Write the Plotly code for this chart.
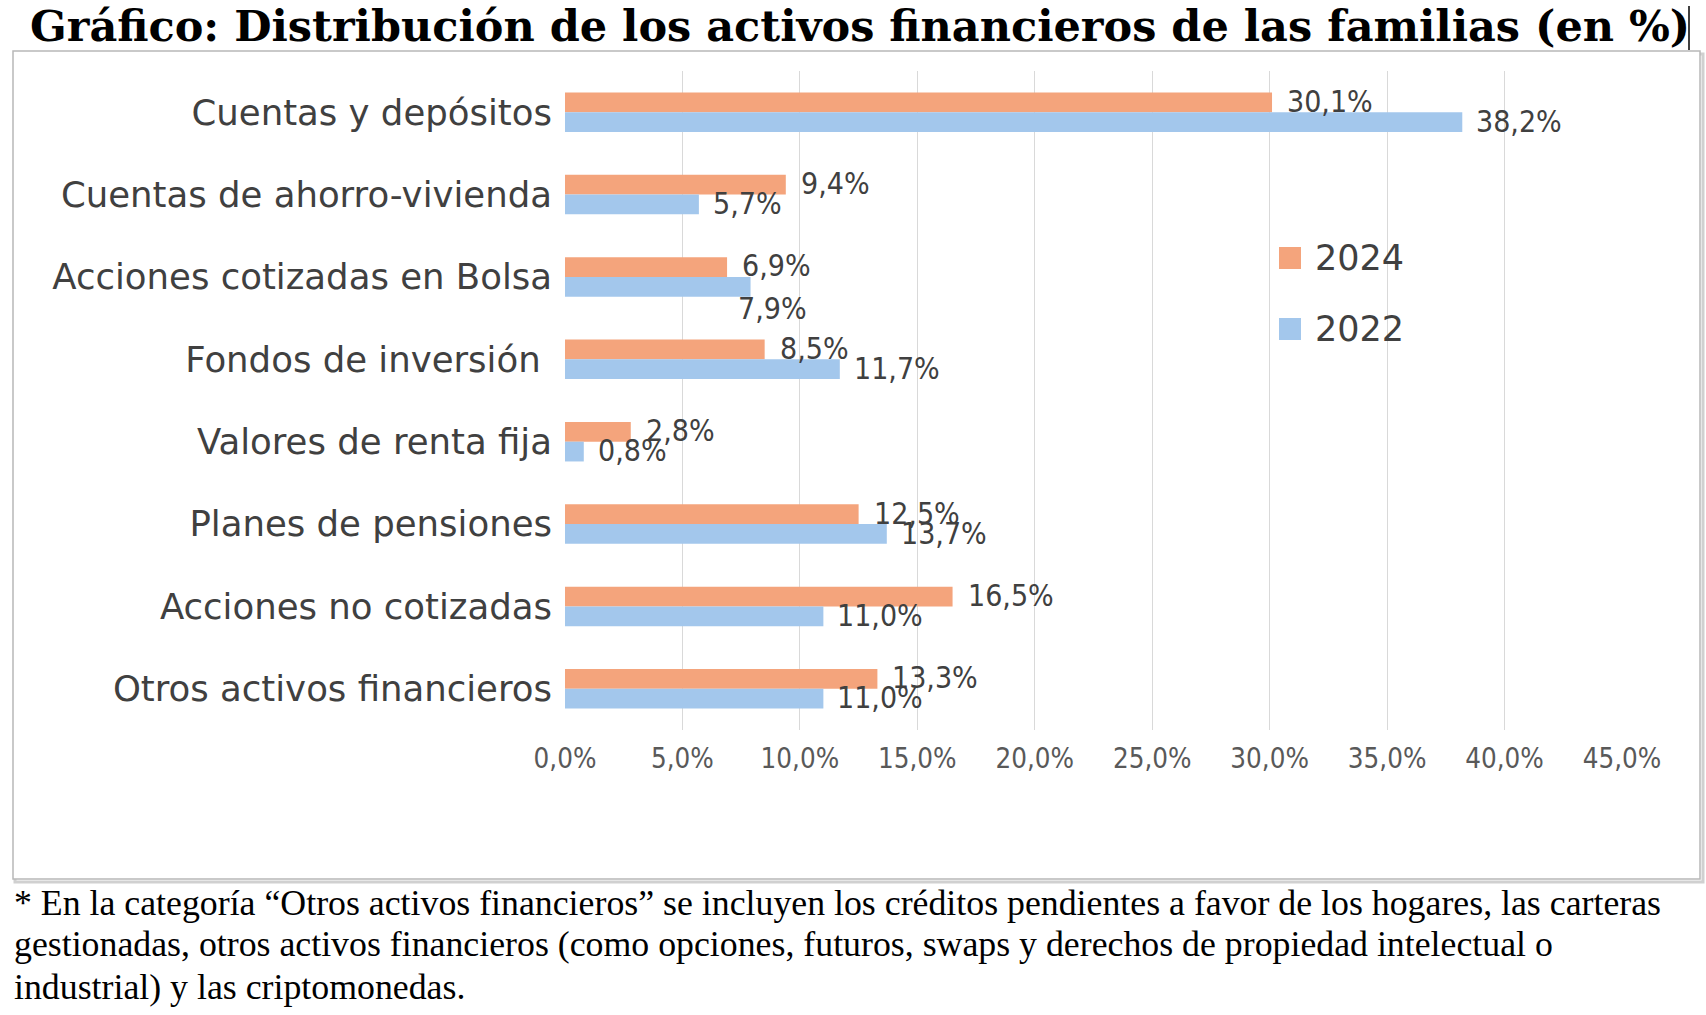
import plotly.graph_objects as go

categories = ["Cuentas y depósitos", "Cuentas de ahorro-vivienda", "Acciones cotizadas en Bolsa",
              "Fondos de inversión ", "Valores de renta fija", "Planes de pensiones",
              "Acciones no cotizadas", "Otros activos financieros"]
values_2024 = [30.1, 9.4, 6.9, 8.5, 2.8, 12.5, 16.5, 13.3]
values_2022 = [38.2, 5.7, 7.9, 11.7, 0.8, 13.7, 11.0, 11.0]
labels_2024 = ["30,1%", "9,4%", "6,9%", "8,5%", "2,8%", "12,5%", "16,5%", "13,3%"]
labels_2022 = ["38,2%", "5,7%", "7,9%", "11,7%", "0,8%", "13,7%", "11,0%", "11,0%"]
tick_vals = [0, 5, 10, 15, 20, 25, 30, 35, 40, 45]
tick_text = ["0,0%", "5,0%", "10,0%", "15,0%", "20,0%", "25,0%", "30,0%", "35,0%", "40,0%", "45,0%"]
series_names = ["2024", "2022"]
footnote_lines = [
    "* En la categoría “Otros activos financieros” se incluyen los créditos pendientes a favor de los hogares, las carteras",
    "gestionadas, otros activos financieros (como opciones, futuros, swaps y derechos de propiedad intelectual o",
    "industrial) y las criptomonedas.",
]
title_text = "Gráfico: Distribución de los activos financieros de las familias (en %)"

ORANGE = "#F4A47C"
BLUE = "#A3C7EC"
COLORS = [ORANGE, BLUE]
W, H = 1706, 1015
PL, PR, PT, PB = 565, 1622, 71, 730  # plot area pixels


def px(x):
    return (x - PL) / (PR - PL)


def py(y):
    return (PB - y) / (PB - PT)


fig = go.Figure()
fig.add_trace(go.Bar(name=series_names[0], y=categories, x=values_2024, orientation="h",
                     marker=dict(color=ORANGE, line=dict(width=0)), hoverinfo="skip"))
fig.add_trace(go.Bar(name=series_names[1], y=categories, x=values_2022, orientation="h",
                     marker=dict(color=BLUE, line=dict(width=0)), hoverinfo="skip"))

annotations = []
label_font = dict(family="DejaVu Sans Condensed, DejaVu Sans", size=30, color="#404040")
for i, c in enumerate(categories):
    annotations.append(dict(x=values_2024[i], y=c, text=labels_2024[i], showarrow=False,
                            xanchor="left", yanchor="middle", xshift=13, yshift=11,
                            font=label_font))
    dx, dy = 12, -9
    if i == 2:
        dx, dy = -15, -32
    annotations.append(dict(x=values_2022[i], y=c, text=labels_2022[i], showarrow=False,
                            xanchor="left", yanchor="middle", xshift=dx, yshift=dy,
                            font=label_font))

# Title
annotations.append(dict(xref="paper", yref="paper", x=px(28), y=py(26), text="<b>" + title_text + "</b>",
                        showarrow=False, xanchor="left", yanchor="middle",
                        font=dict(family="DejaVu Serif", size=43, color="#000000")))
# Footnote lines
for k, (line, yc) in enumerate(zip(footnote_lines, [903, 944, 987])):
    annotations.append(dict(xref="paper", yref="paper", x=px(12), y=py(yc), text=line,
                            showarrow=False, xanchor="left", yanchor="middle", align="left",
                            font=dict(family="Liberation Serif", size=35.8, color="#000000")))

shapes = [
    # shadow + frame
    dict(type="rect", xref="paper", yref="paper", x0=px(15), x1=px(1703), y0=py(54), y1=py(882),
         line=dict(color="#D0D0D0", width=3), fillcolor="rgba(0,0,0,0)", layer="below"),
    dict(type="rect", xref="paper", yref="paper", x0=px(13), x1=px(1700), y0=py(51), y1=py(879),
         line=dict(color="#B8B8B8", width=1.5), fillcolor="#FFFFFF", layer="below"),
    # text cursor after title
    dict(type="line", xref="paper", yref="paper", x0=px(1689), x1=px(1689), y0=py(6), y1=py(50),
         line=dict(color="#000000", width=1.5)),
]

# Manual legend (large squares as in the reference)
for name, color, yc in zip(series_names, COLORS, [258, 329]):
    shapes.append(dict(type="rect", xref="paper", yref="paper", x0=px(1279), x1=px(1301),
                       y0=py(yc + 11), y1=py(yc - 11), line=dict(width=0), fillcolor=color))
    annotations.append(dict(xref="paper", yref="paper", x=px(1313), y=py(yc), text=name,
                            showarrow=False, xanchor="left", yanchor="middle",
                            font=dict(family="DejaVu Sans", size=35, color="#404040")))

fig.update_layout(
    width=W, height=H,
    margin=dict(l=PL, r=W - PR, t=PT, b=H - PB, pad=0),
    paper_bgcolor="#FFFFFF", plot_bgcolor="rgba(0,0,0,0)",
    barmode="group", bargap=0.52, bargroupgap=0,
    showlegend=False,
    annotations=annotations,
    shapes=shapes,
    xaxis=dict(range=[0, 45], tickvals=tick_vals, ticktext=tick_text,
               showgrid=True, gridcolor="#D9D9D9", gridwidth=1.3,
               zeroline=False, showline=False, ticks="",
               tickfont=dict(family="DejaVu Sans Condensed, DejaVu Sans", size=27.5, color="#595959"),
               ticklabelstandoff=9),
    yaxis=dict(autorange="reversed", showgrid=False, zeroline=False, showline=False, ticks="",
               tickfont=dict(family="DejaVu Sans", size=35.5, color="#404040"),
               ticklabelstandoff=12),
)

fig.write_html("out.html")
